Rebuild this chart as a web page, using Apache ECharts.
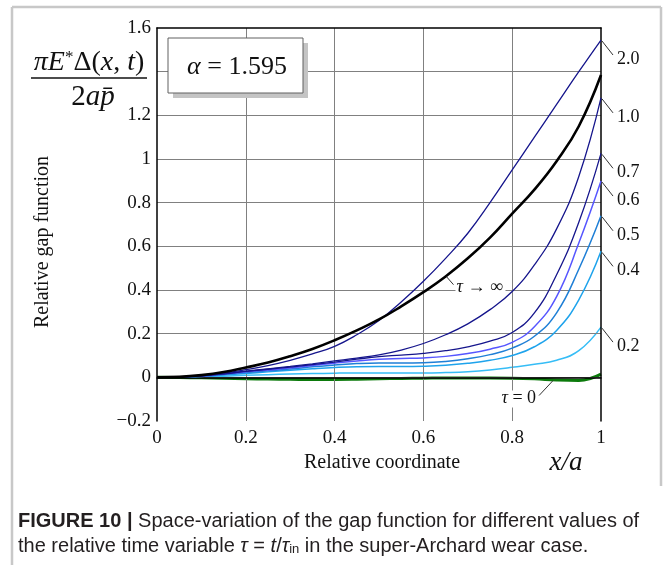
<!DOCTYPE html>
<html><head><meta charset="utf-8">
<script src="https://cdn.jsdelivr.net/npm/echarts@6/dist/echarts.min.js"></script>
<style>html,body{margin:0;padding:0;background:#fff}#c{width:667px;height:565px}</style>
</head><body><div id="c"></div>
<script>
// x positions (relative coordinate x/a) shared by all curves
const xs = [0, 0.05, 0.1, 0.15, 0.2, 0.25, 0.3, 0.35, 0.4, 0.45, 0.5, 0.55, 0.6, 0.65, 0.7, 0.75, 0.8, 0.85, 0.9, 0.95, 1];
// relative gap function for each tau
const yTau0   = [0, -0.001, -0.002, -0.004, -0.006, -0.008, -0.009, -0.010, -0.010, -0.009, -0.007, -0.005, -0.004, -0.003, -0.003, -0.003, -0.004, -0.007, -0.012, -0.014, 0.015];
const yTau02  = [0, 0.001, 0.002, 0.005, 0.009, 0.012, 0.015, 0.017, 0.019, 0.020, 0.020, 0.020, 0.020, 0.022, 0.026, 0.034, 0.046, 0.060, 0.078, 0.122, 0.230];
const yTau04  = [0, 0.001, 0.004, 0.011, 0.018, 0.025, 0.032, 0.039, 0.045, 0.049, 0.050, 0.050, 0.051, 0.055, 0.064, 0.078, 0.100, 0.140, 0.215, 0.355, 0.577];
const yTau05  = [0, 0.002, 0.005, 0.013, 0.022, 0.030, 0.038, 0.048, 0.056, 0.063, 0.066, 0.066, 0.067, 0.073, 0.085, 0.104, 0.134, 0.188, 0.295, 0.495, 0.740];
const yTau06  = [0, 0.002, 0.006, 0.015, 0.025, 0.034, 0.043, 0.054, 0.065, 0.075, 0.083, 0.086, 0.089, 0.096, 0.109, 0.129, 0.160, 0.232, 0.370, 0.615, 0.899];
const yTau07  = [0, 0.002, 0.007, 0.016, 0.027, 0.037, 0.047, 0.058, 0.070, 0.083, 0.095, 0.102, 0.110, 0.122, 0.140, 0.166, 0.205, 0.295, 0.470, 0.710, 1.026];
const yTau10  = [0, 0.002, 0.007, 0.016, 0.028, 0.039, 0.050, 0.062, 0.075, 0.088, 0.103, 0.125, 0.155, 0.195, 0.245, 0.310, 0.393, 0.515, 0.680, 0.920, 1.280];
const yTau20  = [0, 0.002, 0.008, 0.019, 0.035, 0.054, 0.078, 0.107, 0.142, 0.195, 0.260, 0.345, 0.440, 0.545, 0.660, 0.800, 0.950, 1.100, 1.250, 1.400, 1.545];
const yTauInf = [0, 0.002, 0.010, 0.024, 0.045, 0.068, 0.097, 0.130, 0.170, 0.215, 0.265, 0.325, 0.390, 0.462, 0.545, 0.640, 0.750, 0.860, 0.990, 1.150, 1.385];
// axis ticks
const xTicks = [0, 0.2, 0.4, 0.6, 0.8, 1];
const yTickLabels = ['−0.2', '0', '0.2', '0.4', '0.6', '0.8', '1', '1.2', '', '1.6'];

const defs = [
  {name: 'τ = 0',  data: yTau0,   color: '#0b7a0b', width: 3},
  {name: '0.2',    data: yTau02,  color: '#36bdf6', width: 1.5},
  {name: '0.4',    data: yTau04,  color: '#1ea3ec', width: 1.5},
  {name: '0.5',    data: yTau05,  color: '#1f7fd6', width: 1.5},
  {name: '0.6',    data: yTau06,  color: '#5656ff', width: 1.5},
  {name: '0.7',    data: yTau07,  color: '#15158c', width: 1.3},
  {name: '1.0',    data: yTau10,  color: '#15158c', width: 1.3},
  {name: '2.0',    data: yTau20,  color: '#15158c', width: 1.3},
  {name: 'τ → ∞',  data: yTauInf, color: '#000000', width: 2.6}
];

const SERIF = '"Liberation Serif", "Times New Roman", serif';
const SANS = '"Liberation Sans", Arial, sans-serif';
const chart = echarts.init(document.getElementById('c'), null, {renderer: 'canvas'});
const G = {left: 157, top: 28, width: 444, height: 393};

chart.setOption({
  animation: false,
  backgroundColor: '#fff',
  grid: {left: G.left, top: G.top, width: G.width, height: G.height, containLabel: false},
  xAxis: [
    {type: 'value', min: 0, max: 1, interval: 0.2, z: 5,
     axisLine: {show: true, lineStyle: {color: '#000', width: 1.5}},
     axisTick: {show: false},
     axisLabel: {color: '#111', fontFamily: SERIF, fontSize: 19, margin: 8,
       formatter: v => String(xTicks.find(t => Math.abs(t - v) < 1e-9))},
     splitLine: {show: true, showMinLine: false, showMaxLine: false, lineStyle: {color: '#808080', width: 1}}},
    {type: 'value', min: 0, max: 1, position: 'top', z: 5,
     axisLine: {show: true, onZero: false, lineStyle: {color: '#000', width: 1.5}},
     axisTick: {show: false}, axisLabel: {show: false}, splitLine: {show: false}}
  ],
  yAxis: [
    {type: 'value', min: -0.2, max: 1.6, interval: 0.2, z: 5,
     axisLine: {show: true, onZero: false, lineStyle: {color: '#000', width: 1.5}},
     axisTick: {show: false},
     axisLabel: {color: '#111', fontFamily: SERIF, fontSize: 19, margin: 6,
       formatter: v => yTickLabels[Math.round((v + 0.2) / 0.2)]},
     splitLine: {show: true, showMinLine: false, showMaxLine: false, lineStyle: {color: '#808080', width: 1}}},
    {type: 'value', min: -0.2, max: 1.6, position: 'right', z: 5,
     axisLine: {show: true, onZero: false, lineStyle: {color: '#000', width: 1.5}},
     axisTick: {show: false}, axisLabel: {show: false}, splitLine: {show: false}}
  ],
  series: defs.map((d, i) => ({
    type: 'line', name: d.name, xAxisIndex: 0, yAxisIndex: 0,
    data: xs.map((x, k) => [x, d.data[k]]),
    showSymbol: false, smooth: 0.45, z: 3 + i,
    lineStyle: {color: d.color, width: d.width}, silent: true
  }))
});

function px(x, y) { return chart.convertToPixel({xAxisIndex: 0, yAxisIndex: 0}, [x, y]); }

const gfx = [];
// outer frame
gfx.push({type: 'line', shape: {x1: 12, y1: 7, x2: 12, y2: 565}, style: {stroke: '#c8c8c8', lineWidth: 2.5}});
gfx.push({type: 'line', shape: {x1: 12, y1: 7, x2: 661, y2: 7}, style: {stroke: '#c8c8c8', lineWidth: 2.5}});
gfx.push({type: 'line', shape: {x1: 661, y1: 7, x2: 661, y2: 486}, style: {stroke: '#c8c8c8', lineWidth: 2.5}});

// y-axis label
gfx.push({type: 'text', x: 43, y: 242, rotation: Math.PI / 2,
  style: {text: 'Relative gap function', fontFamily: SERIF, fontSize: 20, fill: '#111', align: 'center', verticalAlign: 'middle'}});
// x-axis label
gfx.push({type: 'text', x: 382, y: 463,
  style: {text: 'Relative coordinate', fontFamily: SERIF, fontSize: 20, fill: '#111', align: 'center', verticalAlign: 'middle'}});
gfx.push({type: 'text', x: 566, y: 463,
  style: {text: 'x/a', fontFamily: SERIF, fontStyle: 'italic', fontSize: 27, fill: '#111', align: 'center', verticalAlign: 'middle'}});

// formula
gfx.push({type: 'text', x: 89, y: 63, z: 10,
  style: {text: '{i|πE}{s|*}{r|Δ(}{i|x}{r|, }{i|t}{r|)}', align: 'center', verticalAlign: 'middle',
    rich: {
      i: {fontFamily: SERIF, fontStyle: 'italic', fontSize: 28, fill: '#111'},
      r: {fontFamily: SERIF, fontSize: 28, fill: '#111'},
      s: {fontFamily: SERIF, fontSize: 17, fill: '#111', verticalAlign: 'top'}
    }}});
gfx.push({type: 'line', shape: {x1: 31, y1: 78, x2: 147, y2: 78}, style: {stroke: '#111', lineWidth: 1.6}});
gfx.push({type: 'text', x: 93, y: 97, z: 10,
  style: {text: '{r|2}{i|ap\u0304}', align: 'center', verticalAlign: 'middle',
    rich: {
      i: {fontFamily: SERIF, fontStyle: 'italic', fontSize: 29, fill: '#111'},
      r: {fontFamily: SERIF, fontSize: 29, fill: '#111'}
    }}});

// alpha box
gfx.push({type: 'rect', z: 10, shape: {x: 173, y: 43, width: 135, height: 55}, style: {fill: '#c4c4c4'}});
gfx.push({type: 'rect', z: 11, shape: {x: 168, y: 38, width: 135, height: 55}, style: {fill: '#fff', stroke: '#606060', lineWidth: 1}});
gfx.push({type: 'text', z: 12, x: 237, y: 67,
  style: {text: '{i|α}{r| = 1.595}', align: 'center', verticalAlign: 'middle',
    rich: {
      i: {fontFamily: SERIF, fontStyle: 'italic', fontSize: 26, fill: '#111'},
      r: {fontFamily: SERIF, fontSize: 26, fill: '#111'}
    }}});

// end labels with leaders
['2.0', '1.0', '0.7', '0.6', '0.5', '0.4', '0.2'].forEach(n => {
  const d = defs.find(e => e.name === n);
  const p = px(1, d.data[d.data.length - 1]);
  gfx.push({type: 'line', z: 20, shape: {x1: p[0] + 1, y1: p[1] + 1, x2: p[0] + 12, y2: p[1] + 15},
    style: {stroke: '#333', lineWidth: 1}});
  gfx.push({type: 'text', z: 20, x: p[0] + 16, y: p[1] + 19,
    style: {text: n, fontFamily: SERIF, fontSize: 18, fill: '#111', align: 'left', verticalAlign: 'middle'}});
});

// tau -> infinity label
(function () {
  const p = px(0.652, 0.461);
  gfx.push({type: 'line', z: 20, shape: {x1: p[0], y1: p[1], x2: p[0] + 7, y2: p[1] + 8}, style: {stroke: '#333', lineWidth: 1}});
  gfx.push({type: 'rect', z: 19, shape: {x: p[0] + 9, y: p[1] + 4, width: 50, height: 15}, style: {fill: '#fff'}});
  gfx.push({type: 'text', z: 20, x: p[0] + 10, y: p[1] + 11,
    style: {text: '{i|τ}{r| → ∞}', align: 'left', verticalAlign: 'middle',
      rich: {i: {fontFamily: SERIF, fontStyle: 'italic', fontSize: 18, fill: '#111'},
             r: {fontFamily: SERIF, fontSize: 18, fill: '#111'}}}});
})();
// tau = 0 label
(function () {
  const p = px(0.892, -0.01);
  gfx.push({type: 'line', z: 20, shape: {x1: p[0], y1: p[1] + 1, x2: p[0] - 14, y2: p[1] + 16}, style: {stroke: '#333', lineWidth: 1}});
  gfx.push({type: 'rect', z: 19, shape: {x: p[0] - 58, y: p[1] + 11, width: 41, height: 17}, style: {fill: '#fff'}});
  gfx.push({type: 'text', z: 20, x: p[0] - 17, y: p[1] + 19,
    style: {text: '{i|τ}{r| = 0}', align: 'right', verticalAlign: 'middle',
      rich: {i: {fontFamily: SERIF, fontStyle: 'italic', fontSize: 18, fill: '#111'},
             r: {fontFamily: SERIF, fontSize: 18, fill: '#111'}}}});
})();

// caption
gfx.push({type: 'text', x: 18, y: 521,
  style: {text: '{b|FIGURE 10}{bar| | }{n|Space-variation of the gap function for different values of}',
    align: 'left', verticalAlign: 'middle',
    rich: {b: {fontFamily: SANS, fontWeight: 'bold', fontSize: 20, fill: '#231f20'},
           bar: {fontFamily: SANS, fontWeight: 'bold', fontSize: 20, fill: '#231f20'},
           n: {fontFamily: SANS, fontSize: 20, fill: '#231f20'}}}});
gfx.push({type: 'text', x: 18, y: 546,
  style: {text: '{n|the relative time variable }{i|τ}{n| = }{i|t}{n|/}{i|τ}{sub|in}{n| in the super-Archard wear case.}',
    align: 'left', verticalAlign: 'middle',
    rich: {n: {fontFamily: SANS, fontSize: 20, fill: '#231f20'},
           i: {fontFamily: SANS, fontStyle: 'italic', fontSize: 20, fill: '#231f20'},
           sub: {fontFamily: SANS, fontSize: 13, fill: '#231f20', verticalAlign: 'bottom'}}}});

chart.setOption({graphic: gfx});
</script></body></html>
